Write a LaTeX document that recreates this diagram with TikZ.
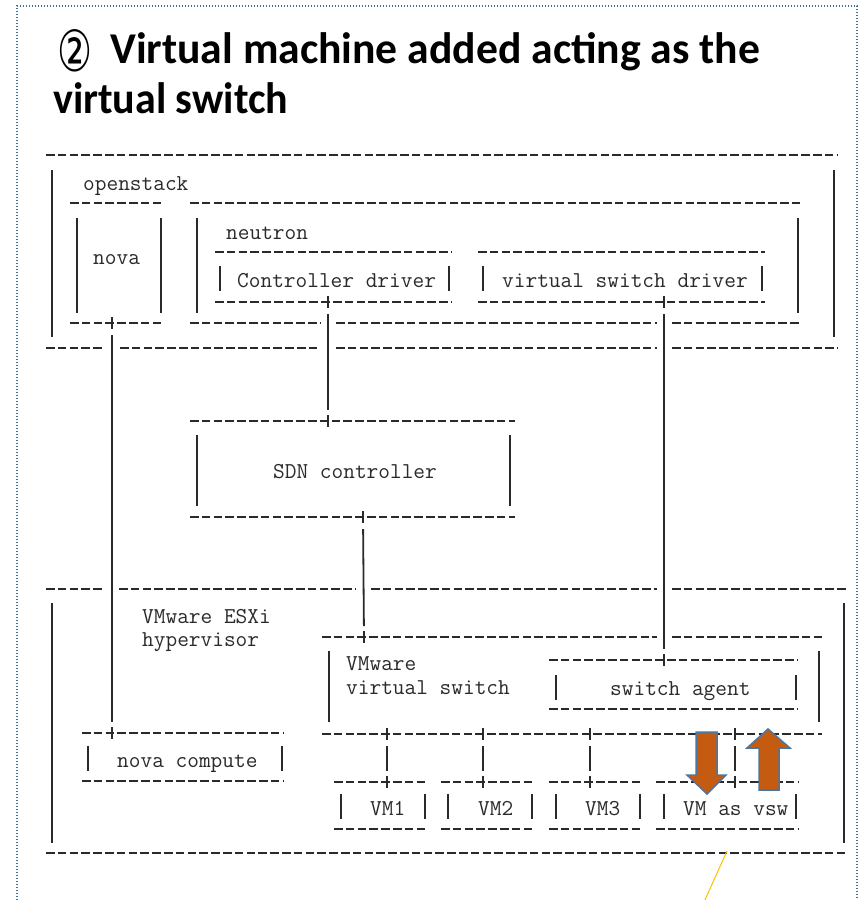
\documentclass[tikz,border=0pt]{standalone}
\usepackage{fontspec}
\usepackage{graphicx}
\newfontfamily\titlefont{Carlito}
\newfontfamily\symfont{DejaVu Sans}
\definecolor{ink}{HTML}{2A2A2A}
\definecolor{frameblue}{HTML}{41719C}
\definecolor{arrowfill}{HTML}{C55A11}
\definecolor{arrowedge}{HTML}{4A76A0}
\definecolor{leader}{HTML}{FFC000}
\tikzset{
  asc/.style={line width=2pt, draw=ink, dash pattern=on 8.6pt off 3.2pt},
  bar/.style={line width=1.8pt, draw=ink},
  link/.style={line width=1.8pt, draw=ink, shorten <=12pt, shorten >=11pt},
  mono/.style={font=\ttfamily\fontsize{22.7}{24}\selectfont, text=ink, inner sep=0pt, anchor=base west},
  bigarrow/.style={fill=arrowfill, draw=arrowedge, line width=1.5pt, line join=miter},
}
\newcommand\junc[2]{\draw[bar] (#1,#2-6) -- (#1,#2+6);}
\newcommand\asbar[2]{\draw[bar] (#1,#2-12.5) -- (#1,#2+12.5);}
\begin{document}
\begin{tikzpicture}[x=1pt,y=-1pt]
\useasboundingbox (0,0) rectangle (863,900);
% frame
\draw[frameblue, line width=1.6pt, dash pattern=on 1.3pt off 1.7pt] (17,900) -- (17,6) -- (857,6) -- (857,900);
% title
\node[anchor=center, inner sep=0pt] (num) at (75,51) {\resizebox{35pt}{42pt}{\symfont ②}};
\node[anchor=base west, inner sep=0pt] (title1) at (110,63) {\raisebox{0pt}[\height][0pt]{\resizebox{650pt}{\height}{\titlefont\bfseries\fontsize{44}{44}\selectfont Virtual machine added acting as the}}};
\node[anchor=base west, inner sep=0pt] (title2) at (53,113) {\raisebox{0pt}[31pt][\depth]{\resizebox{235pt}{\height}{\titlefont\bfseries\fontsize{44}{44}\selectfont virtual switch}}};

% ---------------- openstack box
\draw[asc] (46,155) -- (838,155);
\draw[bar] (52,170) -- (52,337);
\draw[bar] (834,170) -- (834,337);
\draw[asc] (46,348) -- (104,348);
\draw[asc] (120,348) -- (320,348);
\draw[asc] (336,348) -- (657,348);
\draw[asc] (672,348) -- (838,348);
\node[mono] (openstack) at (83,190) {openstack};

% nova box
\draw[asc] (70,203) -- (163,203);
\draw[bar] (77,218) -- (77,313);
\draw[bar] (161,218) -- (161,313);
\node[mono] (nova) at (93,264) {nova};
\draw[asc] (70,323) -- (163,323);
\coordinate (novaJ) at (112,323);
\junc{112}{323}

% neutron box
\draw[asc] (190,203) -- (800,203);
\draw[bar] (197,218) -- (197,313);
\draw[bar] (798,218) -- (798,313);
\node[mono] (neutron) at (226,239) {neutron};
\draw[asc] (190,323) -- (320,323);
\draw[asc] (336,323) -- (657,323);
\draw[asc] (672,323) -- (800,323);

% controller driver
\draw[asc] (215,252) -- (452,252);
\asbar{220}{278}
\asbar{449}{278}
\node[mono] (cdrv) at (237,287) {Controller driver};
\draw[asc] (215,302) -- (452,302);
\coordinate (cdJ) at (328,302);
\junc{328}{302}

% virtual switch driver
\draw[asc] (478,252) -- (765,252);
\asbar{483}{278}
\asbar{762}{278}
\node[mono] (vsdrv) at (502,287) {virtual switch driver};
\draw[asc] (478,302) -- (765,302);
\coordinate (vsdJ) at (664,302);
\junc{664}{302}

% ---------------- SDN controller
\draw[asc] (190,421) -- (515,421);
\coordinate (sdnT) at (328,421);
\junc{328}{421}
\draw[bar] (197,435) -- (197,506);
\draw[bar] (510,435) -- (510,506);
\node[mono] (sdn) at (273,478) {SDN controller};
\draw[asc] (190,517) -- (515,517);
\coordinate (sdnB) at (363,517);
\junc{363}{517}

% ---------------- hypervisor box
\draw[asc] (46,589) -- (104,589);
\draw[asc] (119,589) -- (356,589);
\draw[asc] (371,589) -- (657,589);
\draw[asc] (672,589) -- (848,589);
\draw[bar] (52,603) -- (52,843);
\draw[bar] (844,603) -- (844,843);
\draw[asc] (46,853) -- (848,853);
\node[mono] (esxi) at (142,623) {VMware ESXi};
\node[mono] (hyp) at (142,646) {hypervisor};

% VMware virtual switch
\draw[asc] (322,637) -- (657,637);
\draw[asc] (672,637) -- (822,637);
\coordinate (vswT) at (364,637);
\junc{364}{637}
\draw[bar] (329,651) -- (329,722);
\draw[bar] (819,651) -- (819,722);
\node[mono] (vmw) at (346,670) {VMware};
\node[mono] (vsw) at (346,694) {virtual switch};
\draw[asc] (322,734) -- (822,734);
\coordinate (b1) at (387,734);
\coordinate (b2) at (483,734);
\coordinate (b3) at (590,734);
\coordinate (b4) at (735,734);
\junc{387}{734}
\junc{483}{734}
\junc{590}{734}
\junc{735}{734}

% switch agent
\draw[asc] (549,660) -- (798,660);
\coordinate (saJ) at (664,660);
\junc{664}{660}
\asbar{556}{687}
\asbar{796}{687}
\node[mono] (agent) at (610,695) {switch agent};
\draw[asc] (549,709) -- (798,709);

% nova compute
\draw[asc] (82,733) -- (284,733);
\coordinate (ncJ) at (112,733);
\junc{112}{733}
\asbar{88}{758}
\asbar{282}{758}
\node[mono] (ncomp) at (117,767) {nova compute};
\draw[asc] (82,781) -- (284,781);

% VM boxes
\draw[asc] (334,782) -- (428,782);
\draw[asc] (441,782) -- (535,782);
\draw[asc] (549,782) -- (643,782);
\draw[asc] (656,782) -- (798,782);
\coordinate (v1) at (387,782);
\coordinate (v2) at (483,782);
\coordinate (v3) at (590,782);
\coordinate (v4) at (735,782);
\junc{387}{782}
\junc{483}{782}
\junc{590}{782}
\junc{735}{782}
\asbar{341}{806}
\asbar{425}{806}
\asbar{448}{806}
\asbar{532}{806}
\asbar{556}{806}
\asbar{640}{806}
\asbar{664}{806}
\asbar{796}{806}
\node[mono] (vm1) at (370,815) {VM1};
\node[mono] (vm2) at (478,815) {VM2};
\node[mono] (vm3) at (585,815) {VM3};
\node[mono] (vm4) at (683,815) {VM as vsw};
\draw[asc] (334,829) -- (428,829);
\draw[asc] (441,829) -- (535,829);
\draw[asc] (549,829) -- (643,829);
\draw[asc] (656,829) -- (798,829);

% connectors
\draw[link] (novaJ) -- (ncJ);
\draw[link] (cdJ) -- (sdnT);
\draw[link] (vsdJ) -- (saJ);
\draw[link] (sdnB) -- (vswT);
\draw[link] (b1) -- (v1);
\draw[link] (b2) -- (v2);
\draw[link] (b3) -- (v3);
\draw[link] (b4) -- (v4);

% block arrows
\draw[bigarrow] (696,732) -- (717,732) -- (717,775) -- (726,775) -- (707,794) -- (687,775) -- (696,775) -- cycle;
\draw[bigarrow] (759,790) -- (779,790) -- (779,748) -- (790,748) -- (768,729) -- (747,748) -- (759,748) -- cycle;

% leader line
\coordinate (leadA) at (727,851);
\coordinate (leadB) at (704,902);
\draw[leader, line width=1pt] (leadA) -- (leadB);
\end{tikzpicture}
\end{document}
